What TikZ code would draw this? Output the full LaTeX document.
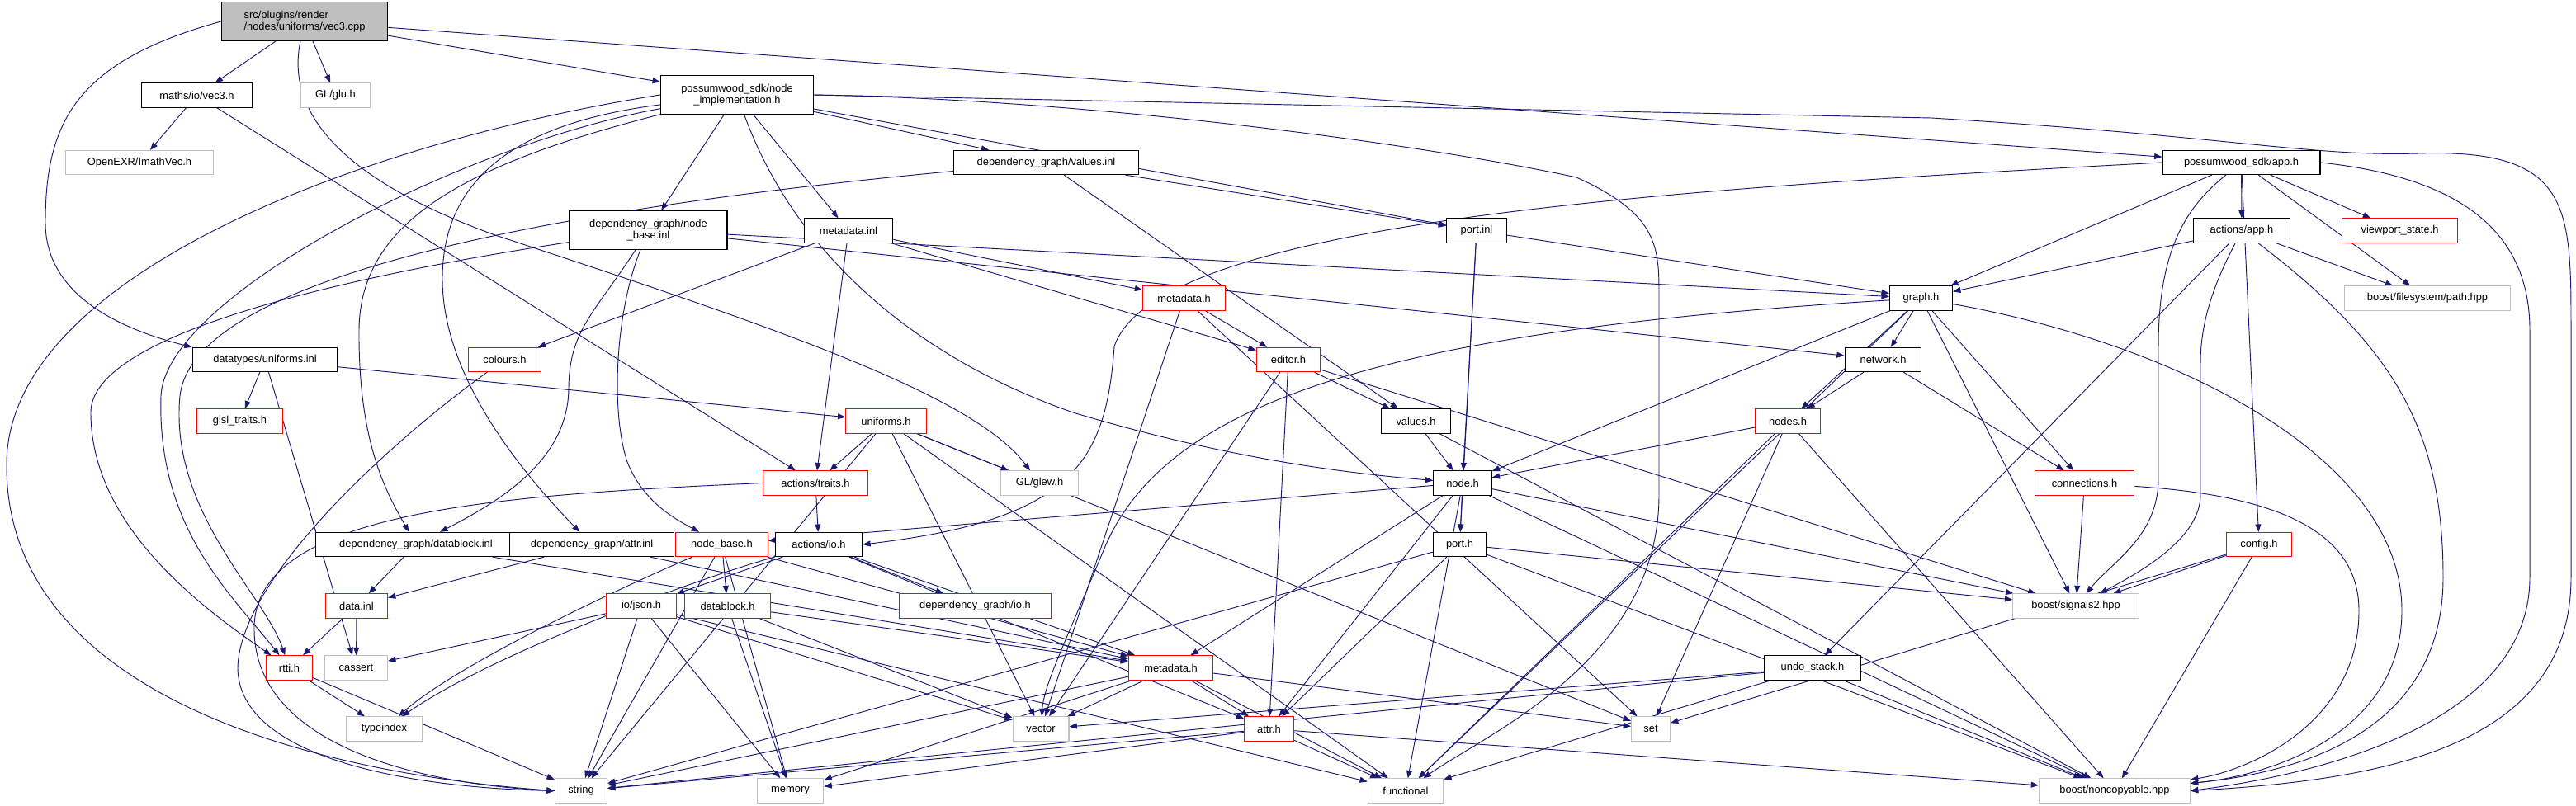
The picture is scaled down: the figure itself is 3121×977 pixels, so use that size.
\documentclass[tikz,border=0pt]{standalone}
\usepackage{fontspec}
\setmainfont{Liberation Sans}
\usetikzlibrary{arrows.meta,backgrounds}
\definecolor{edgeblue}{HTML}{191970}
\definecolor{extgray}{HTML}{BFBFBF}
\definecolor{trunred}{HTML}{FF0000}

\begin{document}
\begin{tikzpicture}[x=0.03cm,y=-0.03cm,
    file/.style={draw=black,line width=0.9pt,fill=white,inner sep=0pt,minimum height=25,
      font=\fontsize{11}{12.5}\selectfont},
    redfile/.style={file,draw=trunred},
    extfile/.style={file,draw=extgray},
    edge/.style={draw=edgeblue,line width=0.8pt,-{Triangle[length=8pt,width=6pt]}}]
  \useasboundingbox (0,0) rectangle (3121,977);
  % --- top rows ---
  \node[file,fill=extgray,minimum width=172,minimum height=40,align=left] (root) at (369,26) {src/plugins/render\\/nodes/uniforms/vec3.cpp};
  \node[file,minimum width=115] (mvec) at (238.5,115.5) {maths/io/vec3.h};
  \node[extfile,minimum width=71] (glu) at (406.5,115.5) {GL/glu.h};
  \node[file,minimum width=158,minimum height=40,align=center] (nimpl) at (893,115) {possumwood\_sdk/node\\\_implementation.h};
  \node[extfile,minimum width=152] (imath) at (169,197) {OpenEXR/ImathVec.h};
  \node[file,minimum width=191] (valinl) at (1267.5,197) {dependency\_graph/values.inl};
  \node[file,minimum width=163] (app) at (2715.5,197) {possumwood\_sdk/app.h};
  \node[file,minimum width=163,minimum height=40,align=center] (nbinl) at (785.5,279) {dependency\_graph/node\\\_base.inl};
  \node[file,minimum width=92] (mdinl) at (1028,279.5) {metadata.inl};
  \node[file,minimum width=62] (portinl) at (1789,279.5) {port.inl};
  \node[file,minimum width=100] (aapp) at (2716,279.5) {actions/app.h};
  \node[redfile,minimum width=119] (vps) at (2907.5,279.5) {viewport\_state.h};
  \node[redfile,minimum width=85] (mdh) at (1434.5,361.5) {metadata.h};
  \node[file,minimum width=65] (graph) at (2327.5,361.5) {graph.h};
  \node[extfile,minimum width=172] (fspath) at (2941,361.5) {boost/filesystem/path.hpp};
  % --- middle rows ---
  \node[file,minimum width=150] (uinl) at (321,436) {datatypes/uniforms.inl};
  \node[redfile,minimum width=75] (colours) at (611.5,436) {colours.h};
  \node[redfile,minimum width=66] (editor) at (1561,436) {editor.h};
  \node[file,minimum width=79] (network) at (2281.5,436) {network.h};
  \node[redfile,minimum width=89] (glsl) at (290.5,510.5) {glsl\_traits.h};
  \node[redfile,minimum width=83] (unih) at (1073.5,510.5) {uniforms.h};
  \node[file,minimum width=71] (valh) at (1715.5,510.5) {values.h};
  \node[redfile,minimum width=68] (nodes) at (2166,510.5) {nodes.h};
  \node[redfile,minimum width=108] (traits) at (988,585.5) {actions/traits.h};
  \node[extfile,minimum width=81] (glew) at (1259.5,585.5) {GL/glew.h};
  \node[file,minimum width=60] (node) at (1772,585.5) {node.h};
  \node[redfile,minimum width=103] (conn) at (2525.5,585.5) {connections.h};
  \node[file,minimum width=208] (dbinl) at (504,660) {dependency\_graph/datablock.inl};
  \node[file,minimum width=170] (attrinl) at (717,660) {dependency\_graph/attr.inl};
  \node[redfile,minimum width=95] (nbh) at (874.5,660) {node\_base.h};
  \node[file,minimum width=90] (aio) at (992,660) {actions/io.h};
  \node[file,minimum width=55] (porth) at (1768.5,660) {port.h};
  \node[redfile,minimum width=68] (config) at (2737,660) {config.h};
  % --- lower rows ---
  \node[redfile,minimum width=64] (datainl) at (432,734.5) {data.inl};
  \node[redfile,minimum width=72] (json) at (777,734.5) {io/json.h};
  \node[redfile,minimum width=89] (dbh) at (881.5,734.5) {datablock.h};
  \node[redfile,minimum width=157] (dgio) at (1181.5,734.5) {dependency\_graph/io.h};
  \node[extfile,minimum width=130] (sig) at (2515,734.5) {boost/signals2.hpp};
  \node[redfile,minimum width=47] (rtti) at (350.5,809.5) {rtti.h};
  \node[extfile,minimum width=65] (cassert) at (431.5,809.5) {cassert};
  \node[redfile,minimum width=87] (md2) at (1418.5,809.5) {metadata.h};
  \node[file,minimum width=100] (undo) at (2196,809.5) {undo\_stack.h};
  \node[extfile,minimum width=79] (typeindex) at (465.5,883.5) {typeindex};
  \node[extfile,minimum width=58] (vector) at (1261,883.5) {vector};
  \node[redfile,minimum width=51] (attrh) at (1537.5,883.5) {attr.h};
  \node[extfile,minimum width=40] (set) at (2000,883.5) {set};
  \node[extfile,minimum width=54] (string) at (704,958.5) {string};
  \node[extfile,minimum width=69] (memory) at (957.5,958.5) {memory};
  \node[extfile,minimum width=78] (functional) at (1703,958.5) {functional};
  \node[extfile,minimum width=156] (noncop) at (2562,958.5) {boost/noncopyable.hpp};
  % --- include edges ---
  \begin{pgfonlayer}{background}
  \foreach \a/\b in {root/mvec,root/glu,root/nimpl,root/app,
      mvec/imath,mvec/traits,uinl/glsl,uinl/unih,uinl/cassert,
      nimpl/valinl,nimpl/nbinl,nimpl/mdinl,nimpl/portinl,
      app/aapp,app/vps,app/fspath,app/graph,app/config,
      aapp/graph,aapp/fspath,aapp/undo,
      valinl/portinl,valinl/valh,nbinl/graph,nbinl/network,
      mdinl/mdh,mdinl/editor,mdinl/traits,mdinl/colours,
      portinl/node,portinl/porth,portinl/graph,
      mdh/editor,mdh/vector,mdh/set,
      editor/valh,editor/sig,editor/attrh,editor/vector,
      graph/node,graph/nodes,graph/network,graph/functional,graph/sig,graph/conn,
      network/nodes,network/conn,nodes/node,nodes/set,nodes/functional,nodes/noncop,
      conn/sig,config/sig,config/noncop,config/set,
      unih/traits,unih/glew,unih/string,unih/vector,unih/functional,unih/set,
      traits/aio,valh/node,valh/noncop,
      node/nbh,node/porth,node/md2,node/attrh,node/functional,node/sig,node/noncop,
      porth/attrh,porth/string,porth/sig,porth/noncop,
      dbinl/datainl,dbinl/md2,attrinl/datainl,attrinl/md2,
      nbh/dbh,nbh/md2,nbh/string,nbh/memory,
      aio/json,aio/dgio,aio/md2,aio/attrh,
      datainl/rtti,datainl/cassert,
      json/cassert,json/string,json/vector,json/memory,json/functional,
      dbh/md2,dbh/vector,dbh/memory,
      md2/vector,md2/attrh,md2/memory,md2/string,md2/functional,md2/set,
      rtti/typeindex,rtti/string,
      attrh/string,attrh/memory,attrh/functional,attrh/noncop,
      undo/vector,undo/string,undo/functional,undo/noncop}
    \draw[edge] (\a) -- (\b);
  % long curved ones
  \draw[edge] (root.west) .. controls (90,75) and (55,150) .. (55,270) .. controls (55,360) and (150,400) .. (uinl.north west);
  \draw[edge] (root) .. controls (345,140) and (420,220) .. (600,285) .. controls (950,400) and (1180,480) .. (glew);
  \draw[edge] (nimpl.west) .. controls (450,170) and (12,330) .. (8,560) .. controls (4,830) and (350,935) .. (string.west);
  \draw[edge] (nimpl) .. controls (560,175) and (200,360) .. (195,480) .. controls (190,640) and (280,720) .. (rtti);
  \draw[edge] (valinl) .. controls (700,250) and (235,330) .. (218,480) .. controls (205,620) and (320,720) .. (rtti);
  \draw[edge] (nbinl) .. controls (450,330) and (110,400) .. (110,500) .. controls (110,640) and (250,740) .. (rtti);
  \draw[edge] (nimpl) .. controls (560,200) and (436,270) .. (435,400) .. controls (434,540) and (470,600) .. (dbinl);
  \draw[edge] (nimpl) .. controls (620,150) and (535,220) .. (536,340) .. controls (537,450) and (620,560) .. (attrinl);
  \draw[edge] (nbinl) .. controls (720,380) and (690,400) .. (689,470) .. controls (689,560) and (600,610) .. (dbinl);
  \draw[edge] (nbinl) .. controls (745,380) and (740,500) .. (760,560) .. controls (780,610) and (820,630) .. (nbh);
  \draw[edge] (nimpl) .. controls (960,300) and (1100,430) .. (1300,500) .. controls (1500,560) and (1650,575) .. (node);
  \draw[edge] (nimpl.east) .. controls (1300,120) and (1700,170) .. (1910,215) .. controls (2010,260) and (2010,300) .. (2010,360) -- (2010,600) .. controls (2010,800) and (1800,890) .. (functional);
  \draw[edge] (nimpl.east) -- (2340,143) .. controls (2700,165) and (2800,190) .. (2930,186) .. controls (3115,180) and (3115,250) .. (3115,400) -- (3115,700) .. controls (3115,900) and (2900,945) .. (noncop.east);
  \draw[edge] (app.east) .. controls (2980,215) and (3065,280) .. (3065,400) -- (3065,700) .. controls (3065,880) and (2800,940) .. (noncop.east);
  \draw[edge] (app) .. controls (2650,250) and (2615,300) .. (2615,420) -- (2615,580) .. controls (2615,650) and (2560,680) .. (sig);
  \draw[edge] (aapp) .. controls (2690,330) and (2666,380) .. (2666,440) -- (2666,600) .. controls (2666,650) and (2600,690) .. (sig);
  \draw[edge] (aapp) .. controls (2900,420) and (2960,520) .. (2960,700) .. controls (2960,880) and (2800,935) .. (noncop);
  \draw[edge] (graph) .. controls (2650,420) and (2910,560) .. (2910,740) .. controls (2910,890) and (2750,940) .. (noncop);
  \draw[edge] (conn) .. controls (2750,600) and (2858,640) .. (2858,740) .. controls (2858,880) and (2720,935) .. (noncop);
  \draw[edge] (app.west) .. controls (2000,230) and (1400,270) .. (1350,420) .. controls (1340,560) and (1300,630) .. (aio.east);
  \draw[edge] (graph) .. controls (1700,400) and (1420,480) .. (1340,660) .. controls (1290,780) and (1265,830) .. (vector);
  \draw[edge] (traits.west) .. controls (600,600) and (310,620) .. (308,760) .. controls (306,900) and (500,950) .. (string.west);
  \draw[edge] (colours) .. controls (480,530) and (290,700) .. (288,810) .. controls (290,920) and (500,955) .. (string.west);
  \draw[edge] (nbh) .. controls (780,700) and (560,800) .. (typeindex);
  \draw[edge] (aio) .. controls (850,700) and (600,790) .. (typeindex);
  \end{pgfonlayer}
\end{tikzpicture}
\end{document}
